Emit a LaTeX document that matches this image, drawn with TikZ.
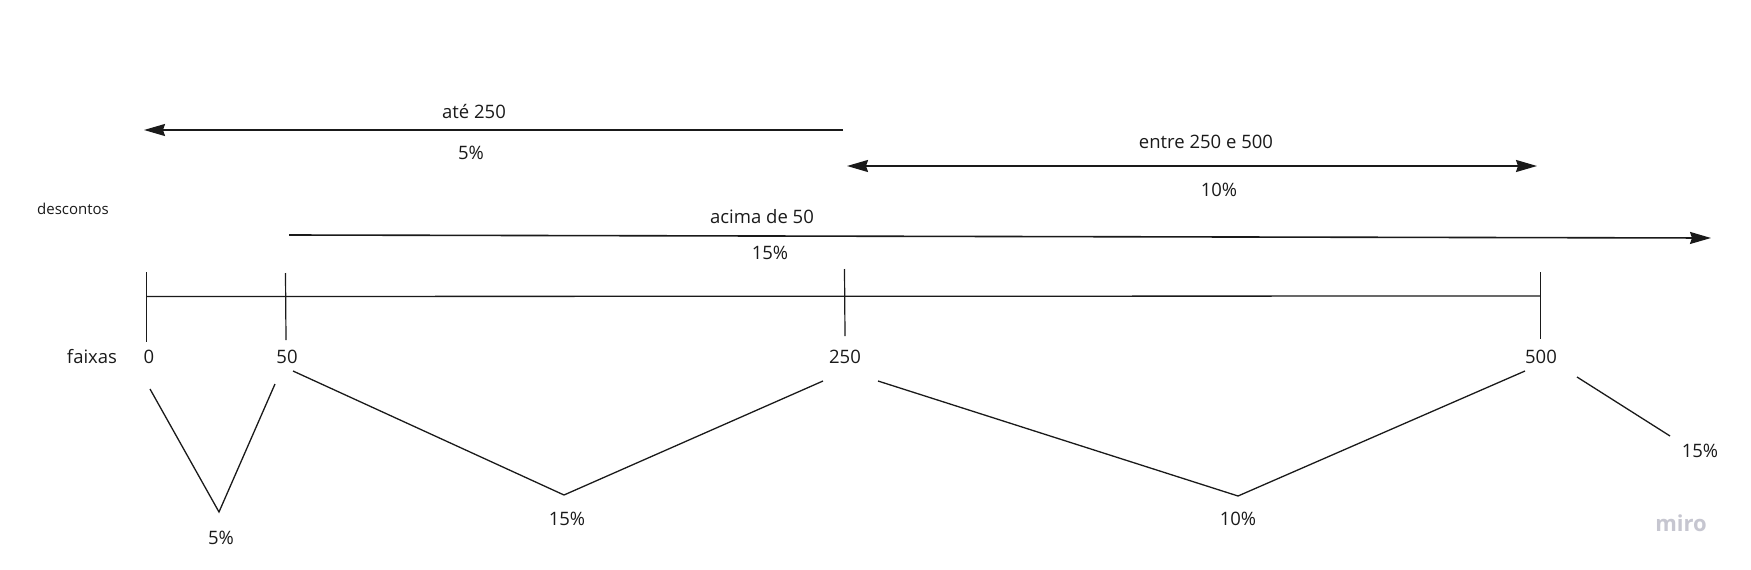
\documentclass[tikz,border=0pt]{standalone}
\usepackage{fontspec}
\setmainfont{Open Sans}
\usetikzlibrary{arrows.meta}
\definecolor{ink}{HTML}{1A1A1A}
\definecolor{mirogray}{HTML}{C6C6D0}
\tikzset{
  lbl/.style={inner sep=0pt, text=ink, font=\fontsize{18.5}{20}\selectfont},
  small/.style={inner sep=0pt, text=ink, font=\fontsize{15}{17}\selectfont},
  ln/.style={draw=ink, line width=1.3pt},
  tick/.style={draw=ink, line width=1.2pt},
  tip/.tip={Stealth[length=21pt,width=12pt,inset=2pt]},
  arr/.style={draw=ink, line width=1.6pt, -tip},
  darr/.style={draw=ink, line width=1.6pt, tip-tip},
}
\begin{document}
\begin{tikzpicture}[x=1pt,y=-1pt]
\useasboundingbox (0,0) rectangle (1751,570);
\fill[white] (0,0) rectangle (1751,570);
% texts
\node[lbl] (ate) at (474,112) {até 250};
\node[lbl] (p5a) at (471,153) {5\%};
\node[lbl] (entre) at (1206,142) {entre 250 e 500};
\node[lbl] (p10a) at (1219,190) {10\%};
\node[small] (desc) at (73,209) {descontos};
\node[lbl] (acima) at (762,217) {acima de 50};
\node[lbl] (p15a) at (770,253) {15\%};
\node[lbl] (faixas) at (92,357) {faixas};
\node[lbl] (n0) at (149,357) {0};
\node[lbl] (n50) at (287,357) {50};
\node[lbl] (n250) at (845,357) {250};
\node[lbl] (n500) at (1541,357) {500};
\node[lbl] (b5) at (221,538) {5\%};
\node[lbl] (b15) at (567,519) {15\%};
\node[lbl] (b10) at (1238,519) {10\%};
\node[lbl] (r15) at (1700,451) {15\%};
\node[inner sep=0pt, text=mirogray, font=\fontsize{22}{24}\selectfont\bfseries] (miro) at (1681,523) {miro};
% arrow coordinates
\coordinate (ateS) at (843,130);
\coordinate (ateE) at (144,130);
\coordinate (entS) at (847,166);
\coordinate (entE) at (1537,166);
\coordinate (acS) at (289,235);
\coordinate (acE) at (1711,238);
\draw[arr] (ateS) -- (ateE);
\draw[darr] (entS) -- (entE);
\draw[arr] (acS) -- (acE);
% axis and ticks
\coordinate (ax0) at (146.5,296.5);
\coordinate (ax1) at (1540.5,296);
\draw[ln] (ax0) -- (ax1);
\coordinate (t0a) at (146.5,272); \coordinate (t0b) at (146.5,342);
\coordinate (t50a) at (285.5,273); \coordinate (t50b) at (286,340);
\coordinate (t250a) at (844.5,269); \coordinate (t250b) at (845,336);
\coordinate (t500a) at (1540.5,272); \coordinate (t500b) at (1540.5,339);
\draw[tick] (t0a) -- (t0b);
\draw[tick] (t50a) -- (t50b);
\draw[tick] (t250a) -- (t250b);
\draw[tick] (t500a) -- (t500b);
% zigzag
\coordinate (z1) at (150,389); \coordinate (v1) at (219,512); \coordinate (z2) at (275,384);
\coordinate (z3) at (293,371); \coordinate (v2) at (564,495); \coordinate (z4) at (823,381);
\coordinate (z5) at (878,381); \coordinate (v3) at (1238,496); \coordinate (z6) at (1525,371);
\coordinate (z7) at (1577,377); \coordinate (v4) at (1670,436);
\draw[ln] (z1) -- (v1) -- (z2);
\draw[ln] (z3) -- (v2) -- (z4);
\draw[ln] (z5) -- (v3) -- (z6);
\draw[ln] (z7) -- (v4);
\end{tikzpicture}
\end{document}
